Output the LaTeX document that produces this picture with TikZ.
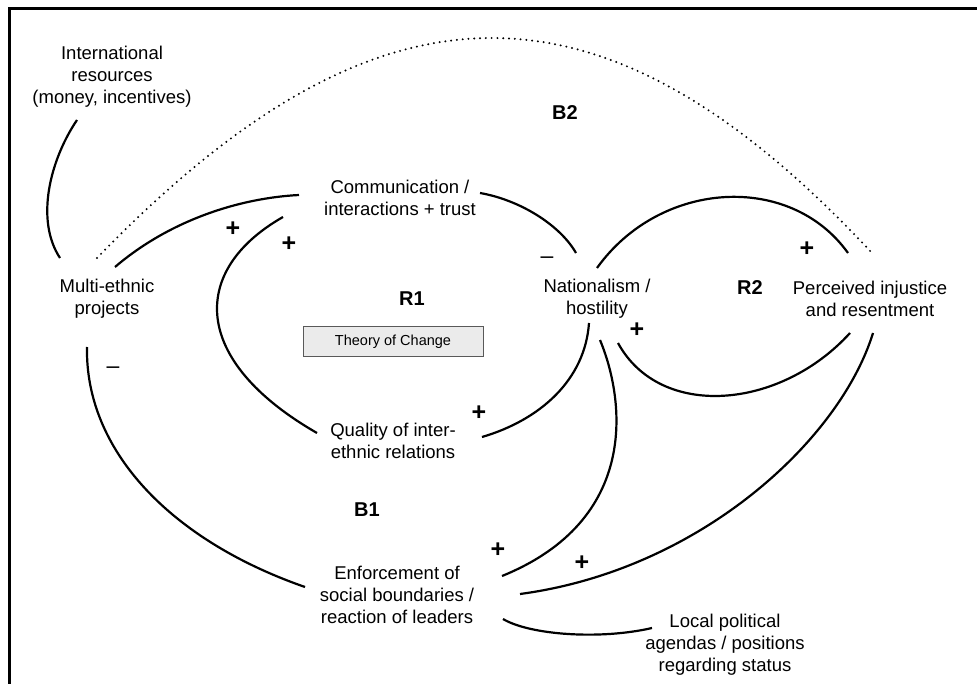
\documentclass[tikz,border=0pt]{standalone}
\usepackage{fontspec}
\setmainfont{Liberation Sans}
\begin{document}
\begin{tikzpicture}[x=1pt,y=-1pt,
  var/.style={inner sep=0pt, align=center, font=\fontsize{18.5}{22}\selectfont},
  looplabel/.style={inner sep=0pt, font=\fontsize{20}{22}\selectfont\bfseries},
  pol/.style={inner sep=0pt, font=\fontsize{25}{22}\selectfont\bfseries},
  neg/.style={inner sep=0pt, font=\fontsize{23}{22}\selectfont},
  link/.style={line width=2.2pt},
  dotlink/.style={line width=2.2pt, line cap=round, dash pattern=on 0pt off 5.8pt},
  tocbox/.style={draw=black!65, fill=black!8, line width=1pt, minimum width=180pt,
    minimum height=30pt, inner sep=0pt, font=\fontsize{14.5}{16}\selectfont}]
\useasboundingbox (0,0) rectangle (977,684);
\fill[white] (0,0) rectangle (977,684);
% outer frame (runs past the right and lower page edges)
\draw[line width=3pt] (9,700) -- (9,9) -- (990,9);

% variables
\node[var] (intl) at (112,77) {International\\resources\\(money, incentives)};
\node[var] (multi) at (107,299) {Multi-ethnic\\projects};
\node[var] (comm) at (400,198) {Communication /\\interactions + trust};
\node[var] (nat) at (597,299) {Nationalism /\\hostility};
\node[var] (inj) at (870,299) {Perceived injustice\\and resentment};
\node[var] (qual) at (393,441) {Quality of inter-\\ethnic relations};
\node[var] (enf) at (397,595) {Enforcement of\\social boundaries /\\reaction of leaders};
\node[var] (local) at (725,645) {Local political\\agendas / positions\\regarding status};

% loop labels
\node[looplabel] (b2) at (565,113) {B2};
\node[looplabel] (r1) at (412,299) {R1};
\node[looplabel] (r2) at (750,288) {R2};
\node[looplabel] (b1) at (367,510) {B1};
\node[tocbox] (toc) at (393,342) {Theory of Change};

% connector end points around the variables
\coordinate (intl-s) at (77,120);
\coordinate (multi-n) at (60,258);
\coordinate (multi-nd) at (97,258);
\coordinate (multi-ne) at (115,267);
\coordinate (multi-s) at (87,347);
\coordinate (comm-w) at (299,195);
\coordinate (comm-sw) at (283,217);
\coordinate (comm-e) at (480,193);
\coordinate (nat-nw) at (576,253);
\coordinate (nat-n) at (597,268);
\coordinate (nat-s) at (589,323);
\coordinate (nat-s2) at (600,340);
\coordinate (nat-se) at (618,343);
\coordinate (inj-nw) at (848,253);
\coordinate (inj-nd) at (872,253);
\coordinate (inj-sw) at (850,333);
\coordinate (inj-s) at (873,333);
\coordinate (qual-w) at (317,433);
\coordinate (qual-e) at (482,437);
\coordinate (enf-w) at (305,587);
\coordinate (enf-ne) at (502,576);
\coordinate (enf-e) at (520,594);
\coordinate (enf-se) at (503,619);
\coordinate (local-w) at (652,628);

% links
\draw[link] (intl-s) .. controls (50,160) and (35,220) .. (multi-n);
\draw[dotlink] (multi-nd) .. controls (380,-34.5) and (604,-34.5) .. (inj-nd);
\draw[link] (multi-ne) .. controls (170,220) and (240,198) .. (comm-w);
\draw[link] (comm-sw) .. controls (190,270) and (190,360) .. (qual-w);
\draw[link] (comm-e) .. controls (520,200) and (560,225) .. (nat-nw);
\draw[link] (nat-n) .. controls (660,180) and (790,172) .. (inj-nw);
\draw[link] (inj-sw) .. controls (780,410) and (660,420) .. (nat-se);
\draw[link] (nat-s) .. controls (585,380) and (540,420) .. (qual-e);
\draw[link] (nat-s2) .. controls (625,400) and (640,520) .. (enf-ne);
\draw[link] (inj-s) .. controls (840,440) and (700,570) .. (enf-e);
\draw[link] (multi-s) .. controls (85,450) and (170,540) .. (enf-w);
\draw[link] (enf-se) .. controls (530,635) and (600,640) .. (local-w);

% polarities
\node[pol] (p1) at (233,229) {+};
\node[pol] (p2) at (289,244) {+};
\node[pol] (p3) at (807,249) {+};
\node[pol] (p4) at (637,330) {+};
\node[pol] (p5) at (479,413) {+};
\node[pol] (p6) at (498,550) {+};
\node[pol] (p7) at (582,563) {+};
\node[neg] (m1) at (113,370) {--};
\node[neg] (m2) at (547,260) {--};
\end{tikzpicture}
\end{document}
